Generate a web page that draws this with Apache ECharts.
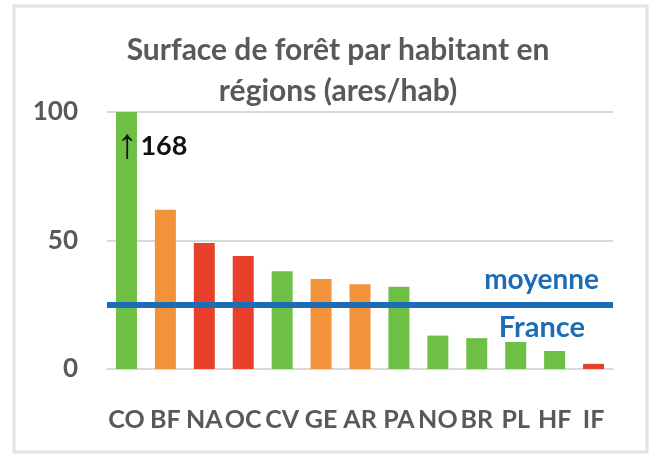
<!DOCTYPE html>
<html>
<head>
<meta charset="utf-8">
<script src="https://cdn.jsdelivr.net/npm/echarts@6/dist/echarts.min.js"></script>
<style>
  html, body { margin: 0; padding: 0; background: #ffffff; }
  #chart { width: 657px; height: 457px; }
</style>
</head>
<body>
<div id="chart"></div>
<script>
// Regions (abbreviations) and forest area per inhabitant (ares/hab)
const regions = ['CO', 'BF', 'NA', 'OC', 'CV', 'GE', 'AR', 'PA', 'NO', 'BR', 'PL', 'HF', 'IF'];
const aresPerHab = [168, 62, 49, 44, 38, 35, 33, 32, 13, 12, 10.5, 7, 2];
// Colour group of each region: g = green, o = orange, r = red
const groups = ['g', 'o', 'r', 'r', 'g', 'o', 'o', 'g', 'g', 'g', 'g', 'g', 'r'];
// National average
const franceAverage = 25;
// Visible value range of the axis (CO goes beyond it)
const yTicks = [0, 50, 100];

const palette = { g: '#6dbf45', o: '#f2923a', r: '#e8412b' };
const grey = '#595959';
const blue = '#1c6db5';
const font = 'Lato, "Open Sans", sans-serif';

const chart = echarts.init(document.getElementById('chart'), null, { renderer: 'canvas' });

chart.setOption({
  backgroundColor: '#ffffff',
  animation: false,
  title: {
    text: 'Surface de forêt par habitant en\nrégions (ares/hab)',
    left: 333,
    top: 25,
    textAlign: 'center',
    textStyle: {
      fontFamily: font,
      fontWeight: 'bold',
      fontSize: 30,
      lineHeight: 41,
      color: grey
    }
  },
  graphic: [{
    type: 'rect',
    shape: { x: 14, y: 6, width: 633, height: 446 },
    style: { fill: 'none', stroke: '#e4e1de', lineWidth: 3 },
    silent: true
  }],
  grid: { left: 107, right: 44, top: 112, bottom: 88 },
  xAxis: {
    type: 'category',
    data: regions,
    axisTick: { show: false },
    axisLine: { lineStyle: { color: '#d9d9d9', width: 2 } },
    axisLabel: {
      interval: 0,
      margin: 38,
      fontFamily: font,
      fontWeight: 'bold',
      fontSize: 25,
      color: grey
    }
  },
  yAxis: {
    type: 'value',
    min: yTicks[0],
    max: yTicks[yTicks.length - 1],
    interval: yTicks[1] - yTicks[0],
    axisLine: { show: false },
    axisTick: { show: false },
    splitLine: { lineStyle: { color: '#d9d9d9', width: 2 } },
    axisLabel: {
      margin: 29,
      fontFamily: font,
      fontWeight: 'bold',
      fontSize: 26,
      color: grey
    }
  },
  series: [{
    type: 'bar',
    barWidth: 21,
    clip: true,
    data: aresPerHab.map((v, i) => ({
      value: v,
      itemStyle: { color: palette[groups[i]] }
    })),
    markPoint: {
      symbol: 'circle',
      symbolSize: 0,
      data: [{
        coord: [0, yTicks[yTicks.length - 1]],
        value: aresPerHab[0]
      }],
      label: {
        show: true,
        position: 'inside',
        align: 'left',
        verticalAlign: 'middle',
        offset: [-10, 34],
        formatter: p => '{a|↑}{b|' + p.value + '}',
        rich: {
          a: { fontFamily: '"Liberation Sans", sans-serif', fontWeight: 'bold', fontSize: 42, color: '#111111', verticalAlign: 'middle', padding: [0, 3, 0, 0] },
          b: { fontFamily: font, fontWeight: 'bold', fontSize: 27, color: '#111111', verticalAlign: 'middle' }
        }
      }
    },
    markLine: {
      silent: true,
      symbol: ['none', 'none'],
      lineStyle: { color: blue, width: 6, type: 'solid' },
      data: [
        {
          yAxis: franceAverage,
          label: {
            show: true,
            position: 'insideEndTop',
            distance: 11,
            formatter: 'moyenne',
            fontFamily: font,
            fontWeight: 'bold',
            fontSize: 28,
            color: blue,
            padding: [0, 3, 0, 0]
          }
        },
        {
          yAxis: franceAverage,
          label: {
            show: true,
            position: 'insideEndBottom',
            distance: 8,
            formatter: 'France',
            fontFamily: font,
            fontWeight: 'bold',
            fontSize: 29,
            color: blue,
            padding: [0, 20, 0, 0]
          }
        }
      ]
    }
  }]
});
</script>
</body>
</html>
